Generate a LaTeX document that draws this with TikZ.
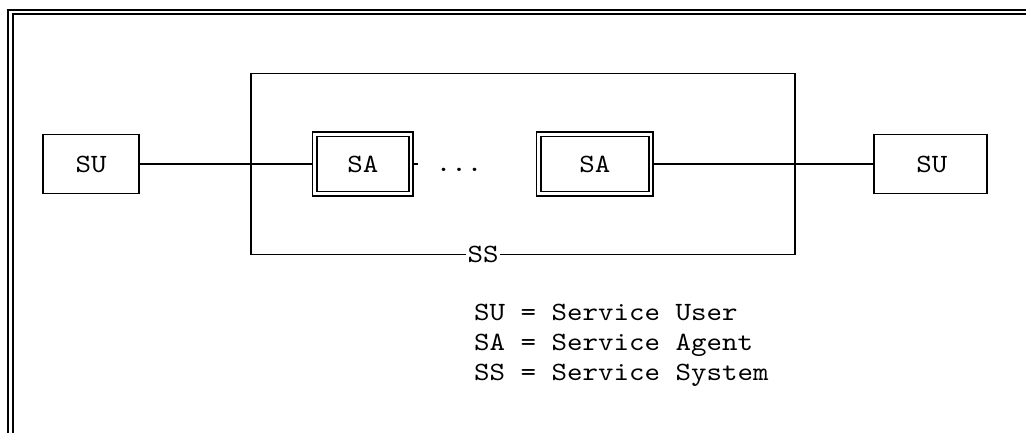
\documentclass[tikz,border=0pt]{standalone}
\usepackage{fontspec}
\setmonofont{lmmono10-regular.otf}[FakeStretch=1.12]
\usetikzlibrary{positioning}

\begin{document}
\begin{tikzpicture}[
  x=0.02cm,y=-0.02cm,
  every node/.style={font=\ttfamily\fontsize{15}{17}\selectfont},
  box/.style={draw,line width=1.1pt,inner sep=0pt,minimum height=1.18cm},
  agent/.style={draw,double,line width=0.9pt,double distance=1.6pt,inner sep=0pt,
                outer sep=1.7pt,minimum height=1.19cm},
  link/.style={line width=1.1pt},
  frame/.style={line width=1.1pt}
]
\useasboundingbox (0,0) rectangle (1026,433);
% double frame, top and left
\draw[frame] (1026,10) -- (8.3,10) -- (8.3,433);
\draw[frame] (1026,14.2) -- (13.3,14.2) -- (13.3,433);
% service system
\node[box,minimum width=10.88cm,minimum height=3.62cm] (ss) at (523,164) {};
\node[fill=white,inner xsep=1pt,inner ysep=0pt] (sslabel) at (483,254) {SS};
% users and agents
\node[box,minimum width=1.92cm] (su1) at (91,164) {SU\hspace{0.32cm}};
\node[box,minimum width=2.26cm] (su2) at (930.5,164) {\hspace{0.05cm}SU};
\node[agent,minimum width=1.93cm] (sa1) at (362.75,164) {SA\hspace{0.28cm}};
\node[agent,minimum width=2.25cm] (sa2) at (594.75,164) {SA\hspace{0.64cm}};
\node[anchor=base] (dots) at (459,171.5) {...};
\coordinate (stub) at (418,164);
\draw[link] (su1) -- (sa1);
\draw[link] (sa1) -- (stub);
\draw[link] (sa2) -- (su2);
% legend
\node[anchor=base west] (legsu) at (468,320.5) {SU = Service User};
\node[anchor=base west] (legsa) at (468,350.5) {SA = Service Agent};
\node[anchor=base west] (legss) at (468,380.5) {SS = Service System};
\end{tikzpicture}
\end{document}
